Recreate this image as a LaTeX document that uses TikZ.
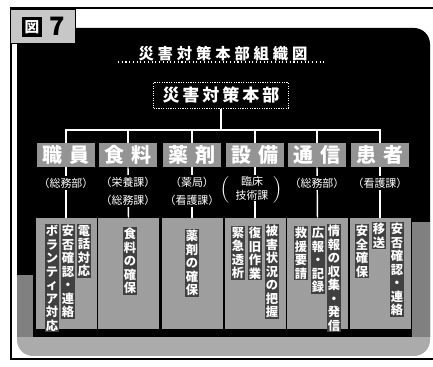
\documentclass[tikz,border=0pt]{standalone}
\usepackage{fontspec}
\newfontfamily\jp{Noto Sans CJK JP}
\newcommand\myls[2]{\def\mylsk{#1}\mylsloop#2\relax\kern-\mylsk\relax}
\def\mylsloop#1{\ifx#1\relax\else#1\kern\mylsk\relax\expandafter\mylsloop\fi}
\tikzset{
 cat/.style={fill=black!42, text=white, minimum width=44pt, minimum height=18pt, inner sep=0pt, font=\jp\fontsize{15pt}{15pt}\selectfont\bfseries},
 col/.style={fill=black!38, minimum width=45.75pt, minimum height=83.25pt, inner sep=0pt},
 dept/.style={fill=black, text=white, inner sep=1pt, align=center, font=\jp\fontsize{8.2pt}{13.5pt}\selectfont},
 vt/.style={anchor=north, fill=black!75, text=white, inner sep=0.8pt, align=center, font=\jp\fontsize{9.2pt}{10.1pt}\selectfont\bfseries},
 link/.style={white, line width=1.6pt},
 sublink/.style={white, line width=1.1pt},
}
\begin{document}
\begin{tikzpicture}[x=0.75pt,y=-0.75pt]
\useasboundingbox[fill=white] (0,0) rectangle (433,367);
% base and panel
\fill[black!33, rounded corners=12pt] (17,320) rectangle (430,356);
\fill[black] (17,337) -- (17,28) [rounded corners=12pt] -- (430,28) [sharp corners] -- (430,337) -- cycle;
\fill[black!50] (412,222) rectangle (430,337);
\fill[black!50] (17,275) rectangle (33,337);
% frame
\draw[line width=0.9pt] (433,8) -- (11,8) -- (11,359) -- (433,359);
% label
\node[draw=black, line width=0.5pt, fill=black!22, minimum width=48.75pt, minimum height=25.5pt, inner sep=0pt, anchor=north west] (lbl) at (10,9) {};
\node[fill=black, text=white, minimum size=15pt, inner sep=0pt, font=\jp\fontsize{11pt}{11pt}\selectfont\bfseries] (zu) at (32,27) {図};
\node[inner sep=0pt, font=\jp\fontsize{19pt}{19pt}\selectfont\bfseries] (seven) at (57,26) {7};
% title
\node[text=white, inner sep=0pt, font=\jp\fontsize{11.5pt}{12pt}\selectfont\bfseries] (title) at (223,54) {\myls{2.9pt}{災害対策本部組織図}};
\coordinate (ul1) at (118,62);
\coordinate (ul2) at (325,62);
\draw[white, dotted, line width=0.8pt] (ul1) -- (ul2);
% HQ
\node[draw=white, densely dotted, line width=0.8pt, fill=black, text=white, minimum width=101pt, minimum height=19pt, inner sep=0pt, font=\jp\fontsize{12.75pt}{13pt}\selectfont\bfseries] (hq) at (221,95.5) {\myls{2.25pt}{災害対策本部}};
% categories
\node[cat] (k1) at (66,155) {職\hspace{5pt}員};
\node[cat] (k2) at (128,155) {食\hspace{5pt}料};
\node[cat] (k3) at (192,155) {薬\hspace{5pt}剤};
\node[cat] (k4) at (255,155) {設\hspace{5pt}備};
\node[cat] (k5) at (317,155) {通\hspace{5pt}信};
\node[cat] (k6) at (380,155) {患\hspace{5pt}者};
% tree
\coordinate (j) at (221,130);
\draw[link] (hq.south) -- (j);
\draw[link] (k1.north) |- (j) -| (k6.north);
\foreach \i in {2,...,5} {\draw[link] (k\i.north) -- (k\i.north |- j);}
% columns
\node[col] (c1) at (66,273.5) {};
\node[col] (c2) at (128.5,273.5) {};
\node[col] (c3) at (192,273.5) {};
\node[col] (c4) at (255,273.5) {};
\node[col] (c5) at (317.5,273.5) {};
\node[col] (c6) at (380,273.5) {};
\foreach \i in {1,...,6} {\draw[sublink] (k\i.south) -- (c\i.north);}
% departments
\node[dept] (d1) at (66,183) {（総務部）};
\node[dept] (d2) at (128,191) {（栄養課）\\（総務課）};
\node[dept] (d3) at (192,191) {（薬局）\\（看護課）};
\node[dept, font=\jp\fontsize{8.2pt}{10.5pt}\selectfont] (d4) at (252,188) {臨床\\技術課};
\node[text=white, inner sep=0pt, font=\fontsize{20pt}{20pt}\selectfont] (p4l) at (225,190) {(};
\node[text=white, inner sep=0pt, font=\fontsize{20pt}{20pt}\selectfont] (p4r) at (277,190) {)};
\node[dept] (d5) at (317,183) {（総務部）};
\node[dept] (d6) at (380,183) {（看護課）};
% column texts
\node[vt] (v1a) at (52,224) {ボ\\ラ\\ン\\テ\\ィ\\ア\\対\\応};
\node[vt] (v1b) at (68,224) {安\\否\\確\\認\\・\\連\\絡};
\node[vt] (v1c) at (84,224) {電\\話\\対\\応};
\node[vt] (v2a) at (130,227) {食\\料\\の\\確\\保};
\node[vt] (v3a) at (192,229) {薬\\剤\\の\\確\\保};
\node[vt] (v4a) at (238,226) {緊\\急\\透\\析};
\node[vt] (v4b) at (255,226) {復\\旧\\作\\業};
\node[vt] (v4c) at (272,224) {被\\害\\状\\況\\の\\把\\握};
\node[vt] (v5a) at (301,226) {救\\援\\要\\請};
\node[vt] (v5b) at (318,226) {広\\報\\・\\記\\録};
\node[vt] (v5c) at (334,224) {情\\報\\の\\収\\集\\・\\発\\信};
\node[vt] (v6a) at (362,224) {安\\全\\確\\保};
\node[vt] (v6b) at (379,222) {移\\送};
\node[vt] (v6c) at (397,222) {安\\否\\確\\認\\・\\連\\絡};
\end{tikzpicture}
\end{document}
